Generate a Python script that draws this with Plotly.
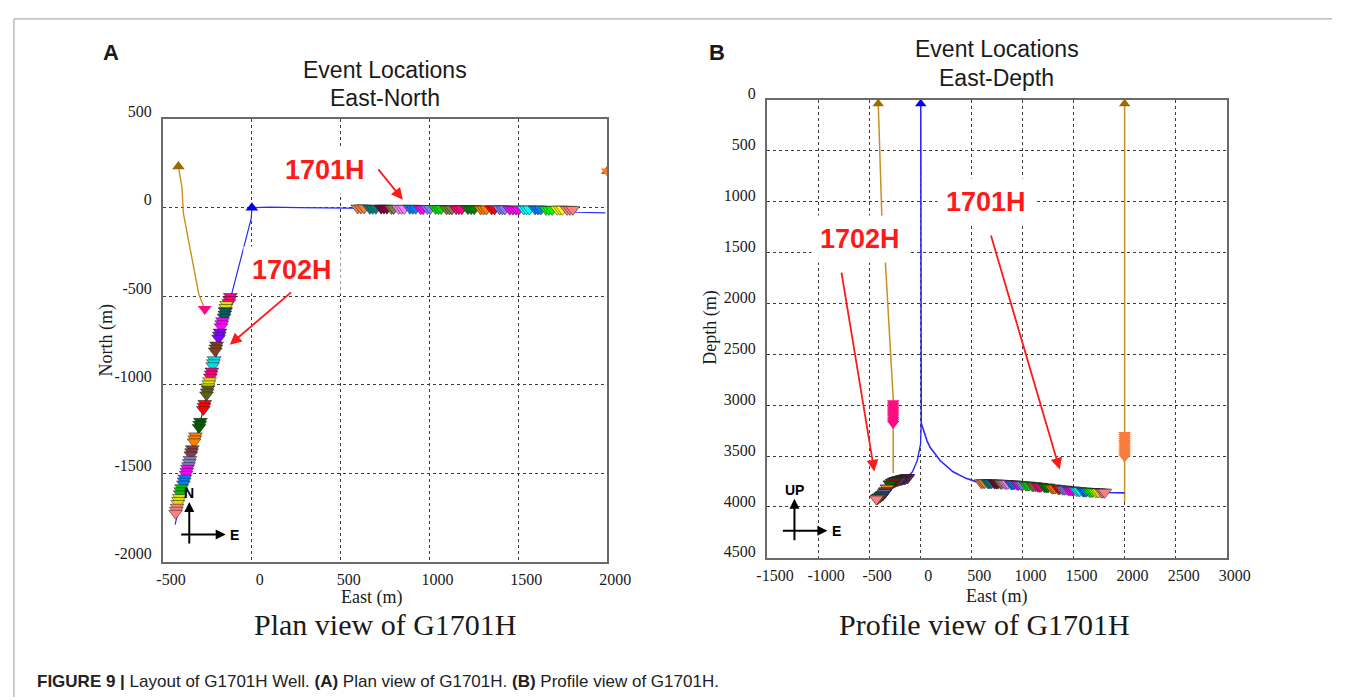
import plotly.graph_objects as go

W, H = 1356, 700

# ---------------- axis ticks ----------------
PLAN_EAST_TICKS = [-500, 0, 500, 1000, 1500, 2000]
PLAN_NORTH_TICKS = [500, 0, -500, -1000, -1500, -2000]
PROF_EAST_TICKS = [-1500, -1000, -500, 0, 500, 1000, 1500, 2000, 2500, 3000]
PROF_DEPTH_TICKS = [0, 500, 1000, 1500, 2000, 2500, 3000, 3500, 4000, 4500]

# ---------------- well trajectories (m) ----------------
# G1701H, plan view
G1701_EAST = [0, 100, 270, 500, 575, 800, 1000, 1200, 1400, 1600, 1830, 1990]
G1701_NORTH = [0, 3, 0, -4, -5, -6, -7, -8, -10, -14, -26, -29]
# G1701H, profile view (vertical section + lateral toward the east)
G1701_PROF_EAST = [5, 5, 8, 10, 36, 67, 98, 194, 321, 448, 544, 614, 800, 1000,
                   1200, 1400, 1600, 1830, 2000]
G1701_DEPTH = [0, 1000, 2500, 3177, 3257, 3353, 3416, 3544, 3655, 3719, 3751, 3762,
               3768, 3782, 3800, 3825, 3845, 3858, 3862]

# G1702H, plan view
G1702_EAST = [0, -3, -118, -270, -432]
G1702_NORTH = [0, -60, -505, -1125, -1790]
# G1702H, profile view (branch from the kick-off point)
G1702_PROF_EAST = [10, 3, -29, -76, -108, -125, -183, -251, -293, -339, -381, -425, -440]
G1702_DEPTH = [3177, 3384, 3544, 3655, 3688, 3712, 3728, 3750, 3775, 3843, 3890, 3918, 3925]

# Monitoring well (west)
MONW_EAST = [-413, -393, -385, -358, -328, -298, -265]
MONW_NORTH = [232, 113, -33, -179, -344, -490, -573]
MONW_PROF_EAST = [-411, -394, -377, -342, -290, -265, -265]
MONW_DEPTH = [40, 500, 1107, 1583, 2470, 2930, 3670]
MONW_RECV_EAST = -265
MONW_RECV_NORTH = -573
MONW_RECV_DEPTH = [2980, 3000, 3020, 3040, 3060, 3080, 3100, 3120, 3140, 3160, 3180]

# Monitoring well (east)
MONE_EAST = 2000
MONE_NORTH = 205
MONE_PROF_EAST = [2000, 2000]
MONE_DEPTH = [40, 3950]
MONE_RECV_DEPTH = [3290, 3310, 3330, 3350, 3370, 3390, 3410, 3430, 3450, 3470, 3490, 3510]

SURFACE_DEPTH = 40

# ---------------- microseismic events, by stage (heel -> toe) ----------------
G1701_EV_EAST = [
    [596, 614, 632], [664, 680, 698], [728, 744, 760], [786, 798],
    [826, 842, 858], [890, 906, 922], [950, 964], [988, 1004],
    [1034, 1050, 1066], [1096, 1112, 1126], [1150, 1166, 1182],
    [1216, 1234, 1252], [1288, 1304, 1320], [1350, 1366],
    [1394, 1410, 1424], [1452, 1470, 1488, 1502], [1530, 1546, 1562],
    [1594, 1610, 1626], [1656, 1672, 1690], [1718, 1734, 1748],
    [1774, 1790, 1806],
]
G1701_EV_NORTH = [-2, -4, -3, -5, -4, -4, -6, -5, -5, -7, -6, -6, -8, -7, -7, -9,
                  -8, -8, -10, -9, -10]
G1701_EV_DEPTH = [3762, 3764, 3766, 3768, 3770, 3774, 3779, 3782, 3786, 3792, 3798,
                  3805, 3815, 3822, 3826, 3834, 3840, 3845, 3849, 3852, 3855]
G1701_STAGE_COLORS = ["#f08040", "#008080", "#800040", "#808040", "#ff80ff", "#0080ff",
                      "#ff00ff", "#8080ff", "#00e000", "#808040", "#ff0080", "#008000",
                      "#ff8000", "#ff0000", "#8080ff", "#ff00ff", "#00ffff", "#0080ff",
                      "#00ff00", "#ffff00", "#ff8080"]

G1702_EV_EAST = [
    [-121, -125, -129], [-142, -146, -150], [-148, -152, -156], [-165, -169, -173],
    [-179, -183, -187], [-198, -202, -206], [-212, -216, -220], [-225, -229, -233],
    [-238, -242, -246], [-247, -251, -255], [-265, -269, -273], [-289, -293, -297],
    [-317, -321, -325], [-335, -339, -343], [-348, -352, -356], [-362, -366, -370],
    [-377, -381, -385], [-395, -399, -403], [-408, -412, -416], [-421, -425, -429],
]
G1702_EV_NORTH = [
    [-502, -519, -536], [-547, -564, -581], [-584, -601, -618], [-639, -656, -673],
    [-703, -720, -737], [-776, -793, -810], [-859, -876, -893], [-923, -940, -957],
    [-978, -995, -1012], [-1024, -1041, -1058], [-1106, -1123, -1140],
    [-1207, -1224, -1241], [-1289, -1306, -1323], [-1362, -1379, -1396],
    [-1423, -1440, -1457], [-1472, -1489, -1506], [-1527, -1544, -1561],
    [-1582, -1599, -1616], [-1637, -1654, -1671], [-1692, -1709, -1726],
]
G1702_EV_DEPTH = [3712, 3718, 3720, 3724, 3728, 3733, 3737, 3740, 3745, 3750, 3758,
                  3775, 3815, 3843, 3862, 3878, 3890, 3903, 3911, 3922]
G1702_STAGE_COLORS = ["#ff0080", "#e0e000", "#006060", "#ff00ff", "#8000ff", "#804020",
                      "#00e0e0", "#ff0080", "#e0e000", "#606020", "#ff0000", "#006000",
                      "#ff8000", "#804040", "#8080c0", "#ff00ff", "#0080ff", "#00c000",
                      "#e0e000", "#ff8080"]

# ---------------- styles ----------------
BLUE = "#2a2aff"
BROWN_LINE = "#c8901e"
BROWN_MARK = "#9c6b00"
PINK = "#ff0a80"
ORANGE = "#f47c3c"
RED = "#ff1a1a"
SERIF = "Liberation Serif"
SANS = "Liberation Sans"
EV_OUTLINE = dict(color="rgba(30,30,30,0.75)", width=0.7)
EV_SIZE = 12


def px(x):
    """Page x (pixels) -> paper fraction."""
    return x / W


def py(y):
    """Page y (pixels, from top) -> paper fraction."""
    return 1 - y / H


def flatten_events(east, north, depth, colors, per_event_north):
    xs, ys, zs, cs = [], [], [], []
    for s, stage in enumerate(east):
        for k, e in enumerate(stage):
            xs.append(e)
            ys.append(north[s][k] if per_event_north else north[s])
            zs.append(depth[s])
            cs.append(colors[s])
    return xs, ys, zs, cs


e1, n1, d1, c1 = flatten_events(G1701_EV_EAST, G1701_EV_NORTH, G1701_EV_DEPTH,
                                G1701_STAGE_COLORS, False)
e2, n2, d2, c2 = flatten_events(G1702_EV_EAST, G1702_EV_NORTH, G1702_EV_DEPTH,
                                G1702_STAGE_COLORS, True)

fig = go.Figure()

# ======== Plan view (East-North) ========
fig.add_trace(go.Scatter(x=MONW_EAST, y=MONW_NORTH, mode="lines",
                         line=dict(color=BROWN_LINE, width=1.4), xaxis="x", yaxis="y"))
fig.add_trace(go.Scatter(x=G1701_EAST, y=G1701_NORTH, mode="lines",
                         line=dict(color=BLUE, width=1.2), xaxis="x", yaxis="y"))
fig.add_trace(go.Scatter(x=G1702_EAST, y=G1702_NORTH, mode="lines",
                         line=dict(color=BLUE, width=1.2), xaxis="x", yaxis="y"))
fig.add_trace(go.Scatter(x=e2, y=n2, mode="markers", xaxis="x", yaxis="y",
                         marker=dict(symbol="triangle-down", size=EV_SIZE, color=c2, line=EV_OUTLINE)))
fig.add_trace(go.Scatter(x=e1, y=n1, mode="markers", xaxis="x", yaxis="y",
                         marker=dict(symbol="triangle-down", size=EV_SIZE, color=c1, line=EV_OUTLINE)))
# wellheads and receiver arrays
fig.add_trace(go.Scatter(x=[MONW_EAST[0]], y=[MONW_NORTH[0]], mode="markers", xaxis="x", yaxis="y",
                         marker=dict(symbol="triangle-up", size=11, color=BROWN_MARK)))
fig.add_trace(go.Scatter(x=[MONW_RECV_EAST], y=[MONW_RECV_NORTH], mode="markers", xaxis="x", yaxis="y",
                         marker=dict(symbol="triangle-down", size=12, color=PINK)))
fig.add_trace(go.Scatter(x=[G1701_EAST[0]], y=[G1701_NORTH[0]], mode="markers", xaxis="x", yaxis="y",
                         marker=dict(symbol="triangle-up", size=11, color="#0000ee")))
fig.add_trace(go.Scatter(x=[MONE_EAST], y=[MONE_NORTH], mode="markers", xaxis="x", yaxis="y",
                         marker=dict(symbol="triangle-up", size=11, color=BROWN_MARK)))
fig.add_trace(go.Scatter(x=[MONE_EAST], y=[MONE_NORTH], mode="markers", xaxis="x", yaxis="y",
                         marker=dict(symbol="triangle-down", size=11, color=ORANGE)))

# ======== Profile view (East-Depth) ========
fig.add_trace(go.Scatter(x=MONW_PROF_EAST, y=MONW_DEPTH, mode="lines",
                         line=dict(color=BROWN_LINE, width=1.5), xaxis="x2", yaxis="y2"))
fig.add_trace(go.Scatter(x=MONE_PROF_EAST, y=MONE_DEPTH, mode="lines",
                         line=dict(color=BROWN_LINE, width=1.5), xaxis="x2", yaxis="y2"))
fig.add_trace(go.Scatter(x=G1701_PROF_EAST, y=G1701_DEPTH, mode="lines",
                         line=dict(color=BLUE, width=1.6), xaxis="x2", yaxis="y2"))
fig.add_trace(go.Scatter(x=G1702_PROF_EAST, y=G1702_DEPTH, mode="lines",
                         line=dict(color=BLUE, width=1.4), xaxis="x2", yaxis="y2"))
fig.add_trace(go.Scatter(x=[MONW_RECV_EAST] * len(MONW_RECV_DEPTH), y=MONW_RECV_DEPTH,
                         mode="markers", xaxis="x2", yaxis="y2",
                         marker=dict(symbol="triangle-down", size=11, color=PINK)))
fig.add_trace(go.Scatter(x=[MONE_EAST] * len(MONE_RECV_DEPTH), y=MONE_RECV_DEPTH,
                         mode="markers", xaxis="x2", yaxis="y2",
                         marker=dict(symbol="triangle-down", size=11, color=ORANGE)))
fig.add_trace(go.Scatter(x=e2, y=d2, mode="markers", xaxis="x2", yaxis="y2",
                         marker=dict(symbol="triangle-down", size=EV_SIZE, color=c2, line=EV_OUTLINE)))
fig.add_trace(go.Scatter(x=e1, y=d1, mode="markers", xaxis="x2", yaxis="y2",
                         marker=dict(symbol="triangle-down", size=EV_SIZE, color=c1, line=EV_OUTLINE)))
fig.add_trace(go.Scatter(x=[MONW_PROF_EAST[0], MONE_PROF_EAST[0]], y=[SURFACE_DEPTH, SURFACE_DEPTH],
                         mode="markers", xaxis="x2", yaxis="y2",
                         marker=dict(symbol="triangle-up", size=10, color=BROWN_MARK)))
fig.add_trace(go.Scatter(x=[G1701_PROF_EAST[0]], y=[SURFACE_DEPTH], mode="markers",
                         xaxis="x2", yaxis="y2",
                         marker=dict(symbol="triangle-up", size=10, color="#0000ee")))

axis_common = dict(
    showline=True, mirror=True, linecolor="#6a6a6a", linewidth=2,
    showgrid=True, gridcolor="#3c3c3c", griddash="dot", gridwidth=1.3,
    zeroline=False, ticks="", fixedrange=True,
    tickfont=dict(family=SERIF, size=16, color="#1a1a1a"),
)

fig.update_layout(
    width=W, height=H,
    margin=dict(l=0, r=0, t=0, b=0),
    paper_bgcolor="white", plot_bgcolor="white",
    showlegend=False,
    xaxis=dict(domain=[px(156), px(612)], range=[-500, 2000], anchor="y",
               tickvals=PLAN_EAST_TICKS, ticktext=[str(v) for v in PLAN_EAST_TICKS],
               ticklabelshift=8, ticklabelstandoff=2, **axis_common),
    yaxis=dict(domain=[py(561), py(106)], range=[-2000, 500], anchor="x",
               tickvals=PLAN_NORTH_TICKS, ticktext=[str(v) for v in PLAN_NORTH_TICKS],
               ticklabelshift=-8, ticklabelstandoff=6, **axis_common),
    xaxis2=dict(domain=[px(776), px(1248)], range=[-1500, 3000], anchor="y2",
                tickvals=PROF_EAST_TICKS, ticktext=[str(v) for v in PROF_EAST_TICKS],
                ticklabelshift=8, ticklabelstandoff=2, **axis_common),
    yaxis2=dict(domain=[py(557), py(86)], range=[4500, 0], anchor="x2",
                tickvals=PROF_DEPTH_TICKS, ticktext=[str(v) for v in PROF_DEPTH_TICKS],
                ticklabelshift=6, ticklabelstandoff=6, **axis_common),
)

ann = []


def text(x, y, s, size, family=SANS, color="#1a1a1a", xanchor="center", **kw):
    ann.append(dict(x=px(x), y=py(y), xref="paper", yref="paper", text=s, showarrow=False,
                    xanchor=xanchor, yanchor="middle",
                    font=dict(family=family, size=size, color=color), **kw))


# panel letters and titles
text(103, 38, "<b>A</b>", 22)
text(725, 38, "<b>B</b>", 22)
text(384, 55, "Event Locations", 23)
text(384, 84, "East-North", 23)
text(1012, 34, "Event Locations", 23)
text(1012, 64, "East-Depth", 23)
# axis titles
text(98, 333, "North (m)", 18, family=SERIF, textangle=-90)
text(718, 320, "Depth (m)", 18, family=SERIF, textangle=-90)
text(370, 598, "East (m)", 18, family=SERIF)
text(1012, 597, "East (m)", 18, family=SERIF)
# view captions
text(384, 625, "Plan view of G1701H", 30, family=SERIF)
text(999, 625, "Profile view of G1701H", 30, family=SERIF)
# figure caption
text(25, 684, "<b>FIGURE 9 |</b> Layout of G1701H Well. <b>(A)</b> Plan view of G1701H. "
     "<b>(B)</b> Profile view of G1701H.", 17, family=SANS,
     color="#222", xanchor="left")

# well labels on white boxes
labels = [
    ("x", "y", 410, 212, "1701H"),
    ("x", "y", 225, -350, "1702H"),
    ("x2", "y2", 643, 1005, "1701H"),
    ("x2", "y2", -590, 1370, "1702H"),
]
for xr, yr, lx, ly, s in labels:
    ann.append(dict(x=lx, y=ly, xref=xr, yref=yr, text="<b>" + s + "</b>", showarrow=False,
                    xanchor="center", yanchor="middle",
                    font=dict(family=SANS, size=27, color=RED), bgcolor="white", borderpad=8))

# pointer arrows (tail -> head, data coordinates)
pointers = [
    ("x", "y", (705, 225), (850, 45)),
    ("x", "y", (229, -471), (-124, -774)),
    ("x2", "y2", (688, 1320), (1365, 3633)),
    ("x2", "y2", (-773, 1683), (-449, 3652)),
]
for xr, yr, tail, head in pointers:
    ann.append(dict(x=head[0], y=head[1], ax=tail[0], ay=tail[1], xref=xr, yref=yr,
                    axref=xr, ayref=yr, text="", showarrow=True, arrowhead=2,
                    arrowsize=1.3, arrowwidth=1.8, arrowcolor=RED))

# compass symbols
for xr, yr, nx, ny, ex, ey, up in [
    ("x", "y", -352, -1663, -147, -1846, "N"),
    ("x2", "y2", -1231, 3920, -909, 4233, "UP"),
]:
    ann.append(dict(x=nx, y=ny, xref=xr, yref=yr, ax=0, ay=43, text="", showarrow=True,
                    arrowhead=2, arrowsize=1, arrowwidth=2, arrowcolor="black"))
    ann.append(dict(x=ex, y=ey, xref=xr, yref=yr, ax=-46, ay=0, text="", showarrow=True,
                    arrowhead=2, arrowsize=1, arrowwidth=2, arrowcolor="black"))
    ann.append(dict(x=nx, y=ny, xref=xr, yref=yr, text="<b>" + up + "</b>", showarrow=False,
                    yshift=9, font=dict(family=SANS, size=14, color="black")))
    ann.append(dict(x=ex, y=ey, xref=xr, yref=yr, text="<b>E</b>", showarrow=False,
                    xshift=9, font=dict(family=SANS, size=14, color="black")))

fig.update_layout(annotations=ann)

# page frame (top and left rules)
fig.update_layout(shapes=[
    dict(type="line", xref="paper", yref="paper", x0=px(3), x1=px(1356), y0=py(3), y1=py(3),
         line=dict(color="#9a9a9a", width=1)),
    dict(type="line", xref="paper", yref="paper", x0=px(3), x1=px(3), y0=py(3), y1=py(700),
         line=dict(color="#9a9a9a", width=1)),
])

fig.write_html("out.html")
